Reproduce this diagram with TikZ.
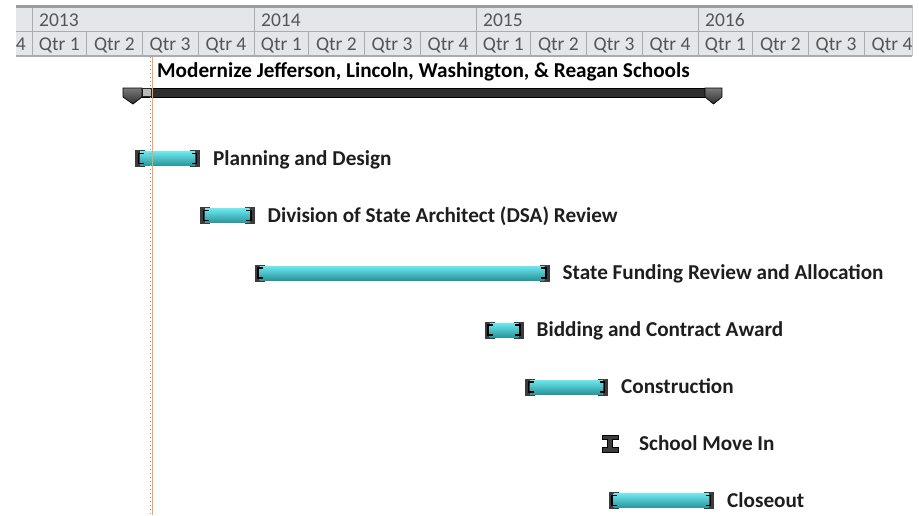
\documentclass[tikz,border=0pt]{standalone}
\usepackage{fontspec}
\setmainfont{Carlito}
\definecolor{hdrfill}{HTML}{E4E6EA}
\definecolor{hdrline}{HTML}{A9ABAE}
\definecolor{hdrtop}{HTML}{9C9C9C}
\definecolor{hdrtextc}{HTML}{555555}
\definecolor{barhi}{HTML}{6CE8EE}
\definecolor{barmid}{HTML}{50D8E0}
\definecolor{barlo}{HTML}{2A969C}
\definecolor{capc}{HTML}{3C3C3C}
\definecolor{labelc}{HTML}{1E1E1E}
\definecolor{todayc}{HTML}{F4A262}
\definecolor{sumdark}{HTML}{2E2E2E}
\definecolor{summid}{HTML}{7A7A7A}

% one task: name, start x, end x, centre y, label
\newcommand{\taskbar}[5]{%
  \fill[capc] (#2,#4-8.5) rectangle (#2+10,#4+8.5);
  \fill[capc] (#3-10,#4-8.5) rectangle (#3,#4+8.5);
  \shade[top color=barhi, middle color=barmid, bottom color=barlo]
    (#2+5,#4-7) rectangle (#3-5,#4+7);
  \draw[black, line width=1.6] (#2+8.5,#4-5) -- (#2+3.5,#4-5) -- (#2+3.5,#4+5) -- (#2+8.5,#4+5);
  \draw[black, line width=1.6] (#3-8.5,#4-5) -- (#3-3.5,#4-5) -- (#3-3.5,#4+5) -- (#3-8.5,#4+5);
  \node[tasklabel] (#1) at (#3+13,#4+6.5) {#5};
}

\begin{document}
\begin{tikzpicture}[x=1pt,y=-1pt,
  hdrtext/.style={text=hdrtextc, font=\fontsize{19.5}{22}\selectfont, inner sep=0},
  tasklabel/.style={anchor=base west, inner sep=0, text=labelc,
    font=\bfseries\fontsize{21.2}{24}\selectfont},
  marker/.style={top color=summid, bottom color=sumdark},
]
\useasboundingbox[fill=white] (0,0) rectangle (919,515);

% ---- timescale header ----
\begin{scope}
  \clip (16,4) rectangle (912.5,57);
  \fill[hdrfill] (16,7) rectangle (912,56);
  \node[hdrtext, anchor=base] (q2012-4) at (5.5,50) {Qtr 4};
  \foreach \yr/\xs in {2013/32, 2014/254, 2015/476, 2016/698} {
    \draw[hdrline, line width=1] (\xs,7) -- (\xs,56);
    \node[hdrtext, anchor=base west] (yr\yr) at (\xs+7,26) {\yr};
    \foreach \q/\a/\b in {1/0/54.7, 2/54.7/110.1, 3/110.1/166.0, 4/166.0/222} {
      \draw[hdrline, line width=1] (\xs+\b,31.5) -- (\xs+\b,56);
      \node[hdrtext, anchor=base] (q\yr-\q) at (\xs+\a/2+\b/2,50) {Qtr \q};
    }
  }
  \draw[hdrline, line width=1] (16,31.5) -- (912,31.5);
  \draw[hdrline, line width=1.2] (16,56) -- (912,56);
  \draw[hdrline, line width=1] (912,7) -- (912,56);
  \draw[hdrtop, line width=2.5] (16,6.5) -- (912.5,6.5);
\end{scope}

% ---- summary task ----
\node[tasklabel, text=black] (summary) at (157,77.3)
  {Modernize Jefferson, Lincoln, Washington, \& Reagan Schools};
\shade[top color=sumdark, middle color=summid, bottom color=sumdark]
  (140,88) rectangle (708,97);
\draw[black, line width=0.7] (140,88) rectangle (708,97);
\fill[gray!55, draw=black!85, line width=0.7] (142,88.5) rectangle (151,96.5);
\shade[marker] (123,88) -- (142,88) -- (142,97) -- (133,104) -- (123,97) -- cycle;
\draw[black, line width=0.7] (123,88) -- (142,88) -- (142,97) -- (133,104) -- (123,97) -- cycle;
\shade[marker] (705,88) -- (722,88) -- (722,97) -- (713.5,104) -- (705,97) -- cycle;
\draw[black, line width=0.7] (705,88) -- (722,88) -- (722,97) -- (713.5,104) -- (705,97) -- cycle;

% ---- tasks ----
\taskbar{plan}{135}{200}{158.5}{Planning and Design}
\taskbar{dsa}{200}{254.5}{215.5}{Division of State Architect (DSA) Review}
\taskbar{funding}{254.5}{549.5}{273}{State Funding Review and Allocation}
\taskbar{bidding}{484.5}{523.5}{330}{Bidding and Contract Award}
\taskbar{construction}{525}{608}{387}{Construction}
\taskbar{closeout}{608.5}{714}{500.5}{Closeout}

% ---- milestone ----
\fill[capc, draw=black, line width=0.7]
  (602,435) -- (618,435) -- (618,439.5) -- (612.5,439.5) -- (612.5,447.5)
  -- (618,447.5) -- (618,452) -- (602,452) -- (602,447.5) -- (607.5,447.5)
  -- (607.5,439.5) -- (602,439.5) -- cycle;
\node[tasklabel] (movein) at (639,450) {School Move In};

% ---- status date and current date lines ----
\coordinate (dottop) at (150,57);
\coordinate (dotbot) at (150,515);
\coordinate (todaytop) at (152.3,56.5);
\coordinate (todaybot) at (152.3,515);
\draw[gray!75, line width=0.9, dash pattern=on 1pt off 3pt] (dottop) -- (dotbot);
\draw[todayc, line width=1.5] (todaytop) -- (todaybot);
\end{tikzpicture}
\end{document}
